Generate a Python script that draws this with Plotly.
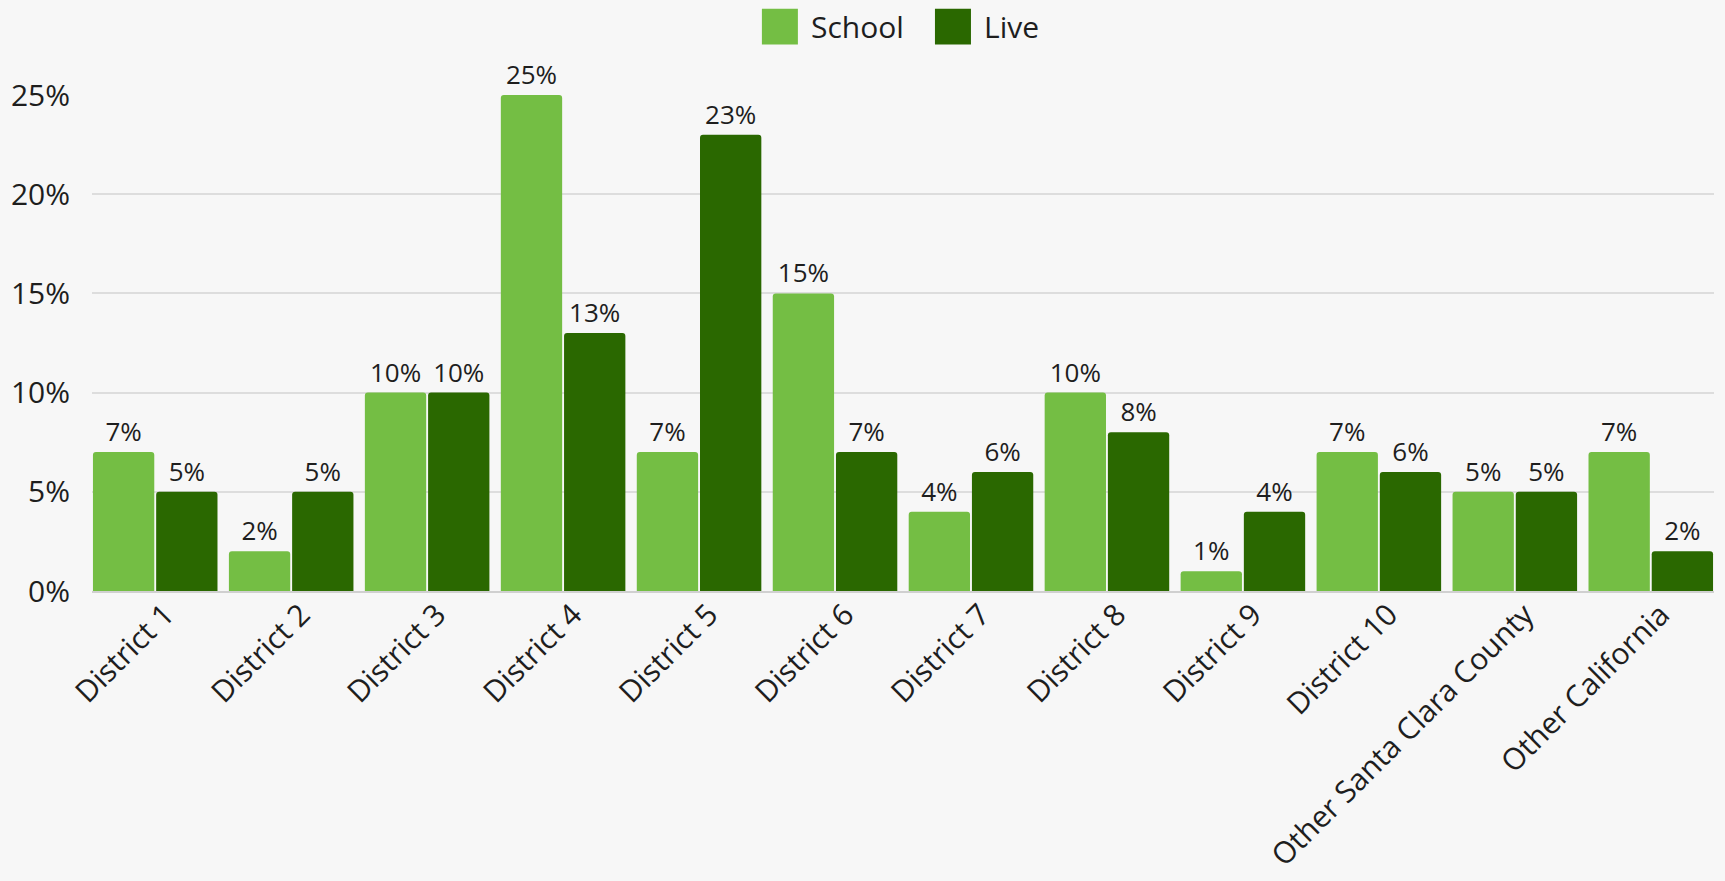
import plotly.graph_objects as go

categories = ["District 1", "District 2", "District 3", "District 4", "District 5",
              "District 6", "District 7", "District 8", "District 9", "District 10",
              "Other Santa Clara County", "Other California"]
school = [7, 2, 10, 25, 7, 15, 4, 10, 1, 7, 5, 7]
live = [5, 5, 10, 13, 23, 7, 6, 8, 4, 6, 5, 2]
series_names = ["School", "Live"]
colors = ["#74BE44", "#2A6800"]
y_ticks = [0, 5, 10, 15, 20, 25]
y_tick_text = ["0%", "5%", "10%", "15%", "20%", "25%"]

FONT = "Open Sans"
BG = "#F7F7F7"
TXT = "#1E1E1E"

fig = go.Figure()
for name, vals, col in zip(series_names, [school, live], colors):
    fig.add_trace(go.Bar(
        x=categories, y=vals, name=name,
        marker=dict(color=col, line=dict(width=0)),
        text=[f"{v}%" for v in vals], texttemplate="%{text}", textposition="outside",
        textfont=dict(family=FONT, size=26, color=TXT),
        constraintext="none",
        cliponaxis=False, showlegend=False,
    ))

bargap = 0.07
fig.update_layout(
    width=1725, height=881,
    paper_bgcolor=BG, plot_bgcolor=BG,
    margin=dict(l=92, r=11, t=95, b=290, autoexpand=False),
    barmode="group", bargap=bargap, bargroupgap=0.03,
    barcornerradius=3,
    font=dict(family=FONT, color=TXT),
    xaxis=dict(
        type="category", tickangle=-45, automargin=False,
        range=[-0.5 + bargap / 2, len(categories) - 0.5 - bargap / 2],
        tickfont=dict(family=FONT, size=30, color=TXT),
        showgrid=False, showline=True, linecolor="#D0D0D0", linewidth=2,
        ticks="", zeroline=False, ticklabelshift=10, ticklabelstandoff=-8,
    ),
    yaxis=dict(
        range=[0, 25], tickvals=y_ticks, ticktext=y_tick_text, automargin=False,
        tickfont=dict(family=FONT, size=30, color=TXT),
        showgrid=True, gridcolor="#DDDDDD", gridwidth=1.5,
        zeroline=False, ticks="", ticklabelstandoff=21,
    ),
)

# Legend drawn as large swatches above the plot (paper coordinates)
legend_items = [("School", colors[0], 0.413), ("Live", colors[1], 0.5197)]
for label, col, x0 in legend_items:
    fig.add_shape(type="rect", xref="paper", yref="paper",
                  x0=x0, x1=x0 + 0.0222, y0=1.1017, y1=1.174,
                  fillcolor=col, line=dict(width=0))
    fig.add_annotation(xref="paper", yref="paper", x=x0 + 0.0292, y=1.138,
                       text=label, showarrow=False, xanchor="left", yanchor="middle",
                       font=dict(family=FONT, size=30, color=TXT))

fig.write_html("out.html", config={"displayModeBar": False},
               post_script="document.body.style.margin='0';document.body.style.background='#F7F7F7';")
